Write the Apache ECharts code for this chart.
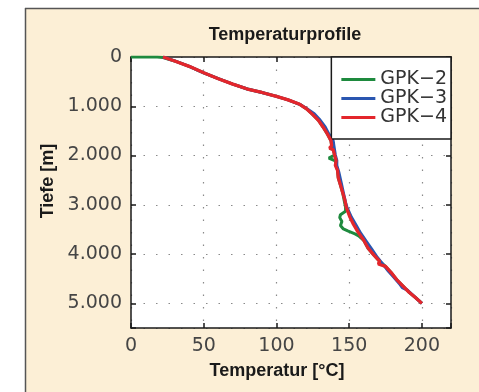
<!DOCTYPE html>
<html>
<head>
<meta charset="utf-8">
<script src="https://cdn.jsdelivr.net/npm/echarts@6/dist/echarts.min.js"></script>
<style>html,body{margin:0;padding:0;background:#fff}#c{width:479px;height:392px}</style>
</head>
<body>
<div id="c"></div>
<script>
// Temperature [°C] vs depth [m]
const gpk2 = [[0,0],[18,0],[22,10],[30,80],[40,190],[50,320],[60,440],[70,550],[80,650],[90,720],[100,800],[108,870],[116,960],[121,1060],[125,1170],[129,1290],[132,1420],[135,1560],[137.5,1700],[138,1800],[139,1880],[140,1990],[136,2050],[136.5,2085],[140.5,2110],[141,2200],[142,2300],[142.5,2450],[144,2600],[145.5,2750],[146.5,2900],[147.5,3050],[147.5,3130],[144,3200],[143.5,3260],[145,3340],[144,3420],[146,3490],[149,3530],[154,3590],[156.5,3630],[160,3720],[163,3880],[167,4020],[171,4150],[175,4250],[179,4380],[183,4530],[187,4650],[191,4770],[195.5,4880],[200,5000]];
const gpk3 = [[22,0],[30,80],[40,190],[50,320],[60,440],[70,550],[80,650],[90,720],[100,800],[108,870],[116,960],[121,1050],[126,1150],[130,1280],[133.5,1420],[136,1560],[139,1700],[139.5,1800],[140.5,1990],[141.5,2100],[141.5,2200],[143,2350],[144.5,2550],[146,2750],[147.5,2950],[148.5,3050],[151.5,3250],[154.5,3400],[158,3580],[162,3750],[165.5,3900],[169,4050],[173,4200],[177,4350],[181,4480],[185,4620],[186.5,4680],[190,4730],[195,4870],[200,5000]];
const gpk4 = [[22,0],[30,80],[40,190],[50,320],[60,440],[70,550],[80,650],[90,720],[100,800],[108,870],[116,960],[121,1060],[125,1170],[129,1290],[132,1420],[135,1560],[137.5,1700],[138,1800],[136.5,1850],[139,1880],[140,1990],[141,2100],[140.5,2200],[142,2300],[142.5,2450],[144,2600],[145.5,2750],[147,2900],[148,3050],[150.5,3250],[153,3400],[156,3550],[160,3720],[163,3880],[167,4020],[171,4150],[170,4200],[175,4250],[179,4380],[183,4530],[187,4650],[191,4770],[195.5,4880],[200,5000]];
const seriesNames = ['GPK−2','GPK−3','GPK−4'];
const xTicks = [0,50,100,150,200];
const yTicks = [0,1000,2000,3000,4000,5000];

const chart = echarts.init(document.getElementById('c'), null, {renderer:'canvas'});
const axisLine = {show:true, onZero:false, lineStyle:{color:'#1a1a1a', width:1.5}};
const tk = {show:true, inside:true, length:5, lineStyle:{color:'#1a1a1a', width:1.5}};
const labelStyle = {color:'#454545', fontSize:19, fontFamily:'DejaVu Sans'};
const gridDots = {show:true, lineStyle:{color:'#8a8a8a', width:1.2, type:[1.5,11]}};
const fmtY = v => yTicks.indexOf(v) < 0 ? '' : (v === 0 ? '0' : (v/1000) + '.000');
const fmtX = v => xTicks.indexOf(v) < 0 ? '' : String(v);

chart.setOption({
  backgroundColor:'#fcefd6',
  animation:false,
  grid:{left:131, top:57, right:28, bottom:64, show:true, backgroundColor:'#ffffff', borderWidth:0},
  xAxis:[
    {type:'value', min:0, max:220, interval:50, position:'bottom',
     axisLine:axisLine, axisTick:tk,
     axisLabel:{...labelStyle, margin:9, formatter:fmtX}, splitLine:gridDots},
    {type:'value', min:0, max:220, interval:50, position:'top',
     axisLine:axisLine, axisTick:tk,
     axisLabel:{show:false}, splitLine:{show:false}}
  ],
  yAxis:[
    {type:'value', min:0, max:5500, interval:1000, inverse:true, position:'left',
     axisLine:axisLine, axisTick:tk,
     axisLabel:{...labelStyle, margin:9, formatter:fmtY}, splitLine:gridDots},
    {type:'value', min:0, max:5500, interval:1000, inverse:true, position:'right',
     axisLine:axisLine, axisTick:tk,
     axisLabel:{show:false}, splitLine:{show:false}}
  ],
  legend:{
    data:seriesNames, orient:'vertical', right:28, top:57, itemGap:0,
    itemWidth:34, itemHeight:3, icon:'rect',
    padding:[13,4,12,10], backgroundColor:'#ffffff', borderColor:'#1a1a1a', borderWidth:1.5, borderRadius:0,
    textStyle:{color:'#333', fontSize:19, fontFamily:'DejaVu Sans', lineHeight:15}
  },
  series:[
    {name:seriesNames[0], type:'line', data:gpk2, showSymbol:false, symbol:'none', color:'#1e8a3e', lineStyle:{width:3, color:'#1e8a3e'}, z:2},
    {name:seriesNames[1], type:'line', data:gpk3, showSymbol:false, symbol:'none', color:'#2a56b0', lineStyle:{width:3, color:'#2a56b0'}, z:3},
    {name:seriesNames[2], type:'line', data:gpk4, showSymbol:false, symbol:'none', color:'#e3262c', lineStyle:{width:3.3, color:'#e3262c'}, z:4}
  ],
  graphic:[
    {type:'rect', shape:{x:0, y:0, width:25, height:392}, style:{fill:'#ffffff'}, silent:true},
    {type:'rect', shape:{x:0, y:0, width:479, height:8}, style:{fill:'#ffffff'}, silent:true},
    {type:'line', shape:{x1:25.5, y1:8, x2:25.5, y2:392}, style:{stroke:'#555', lineWidth:1.5}, silent:true},
    {type:'line', shape:{x1:25, y1:8.5, x2:479, y2:8.5}, style:{stroke:'#555', lineWidth:1.5}, silent:true},
    {type:'text', x:285, y:35, style:{text:'Temperaturprofile', fill:'#1a1a1a', font:'bold 18px "Liberation Sans"', align:'center', verticalAlign:'middle'}},
    {type:'text', x:277, y:371, style:{text:'Temperatur [°C]', fill:'#1a1a1a', font:'bold 18px "Liberation Sans"', align:'center', verticalAlign:'middle'}},
    {type:'text', x:48, y:181, rotation:Math.PI/2, style:{text:'Tiefe [m]', fill:'#1a1a1a', font:'bold 18px "Liberation Sans"', align:'center', verticalAlign:'middle'}}
  ]
});
</script>
</body>
</html>
